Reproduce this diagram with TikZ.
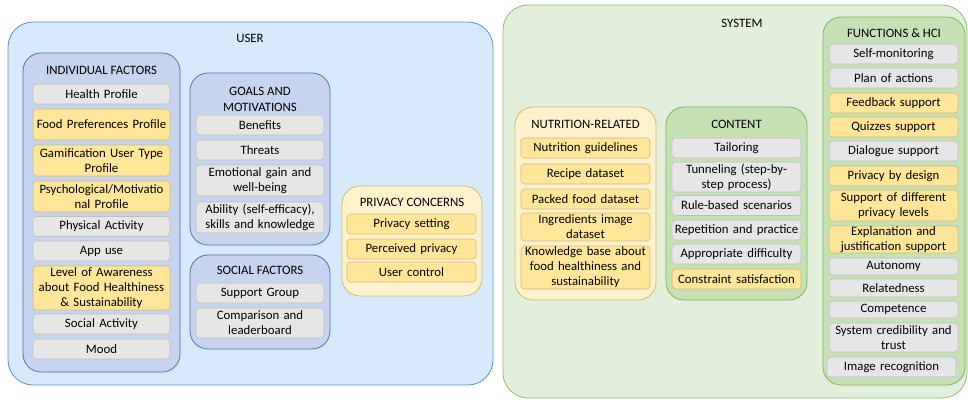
\documentclass[tikz,border=0pt]{standalone}
\usepackage{fontspec}
\setmainfont{Carlito}
\usepackage{tikz}
\usetikzlibrary{calc}

\definecolor{userfill}{HTML}{D6EAFB}
\definecolor{userline}{HTML}{5B8FD0}
\definecolor{grpfill}{HTML}{C6D4EE}
\definecolor{grpline}{HTML}{4F72B0}
\definecolor{sysfill}{HTML}{E2EFDA}
\definecolor{sysline}{HTML}{8DBF70}
\definecolor{greenfill}{HTML}{C6E1B5}
\definecolor{greenline}{HTML}{7DB35C}
\definecolor{creamfill}{HTML}{FFF2CC}
\definecolor{creamline}{HTML}{D1BA6A}
\definecolor{grayfill}{HTML}{E7E6E6}
\definecolor{grayline}{HTML}{BFBFBF}
\definecolor{yelfill}{HTML}{FFE699}
\definecolor{yelline}{HTML}{CDBB7E}

\tikzstyle{outer} = [inner sep=0pt, outer sep=0pt, rounded corners=25pt, line width=0.8pt]
\tikzstyle{group} = [inner sep=0pt, outer sep=0pt, rounded corners=18pt, line width=0.8pt]
\tikzstyle{item} = [draw=grayline, fill=grayfill, rounded corners=3.5pt, line width=0.6pt,
                    text width=126pt, align=center, inner xsep=1.5pt, inner ysep=0pt,
                    minimum height=20pt, font=\fontsize{12.8}{15}\selectfont]
\tikzstyle{yitem} = [item, draw=yelline, fill=yelfill]
\tikzstyle{title} = [align=center, font=\fontsize{12.8}{16}\selectfont]

\begin{document}
\begin{tikzpicture}[x=1pt, y=-1pt]

        % canvas
        \useasboundingbox (0,0) rectangle (968,400);

        % USER
        \node at (250.5,203.5) [outer, draw=userline, fill=userfill, minimum width=485pt, minimum height=363pt] (user) {};
        \node at (250,38) [title] (usert) {USER};

        % Individual factors
        \node at (101.5,212.5) [group, draw=grpline, fill=grpfill, minimum width=157pt, minimum height=319pt] (indiv) {};
        \node at (101.5,70) [title] (indivt) {INDIVIDUAL FACTORS};
        \node at (101.5,94) [item, text width=134pt] (health) {Health Profile};
        \node at (101.5,124.5) [yitem, text width=134pt, minimum height=31pt] (food) {Food Preferences Profile};
        \node at (101.5,160.5) [yitem, text width=134pt, minimum height=31pt] (gamif) {Gamification User Type\\Profile};
        \node at (101.5,196.5) [yitem, text width=134pt, minimum height=31pt] (psych) {Psychological/Motivatio\\nal Profile};
        \node at (101.5,226.5) [item, text width=134pt] (phys) {Physical Activity};
        \node at (101.5,251) [item, text width=134pt] (app) {App use};
        \node at (101.5,288) [yitem, text width=134pt, minimum height=44pt] (aware) {Level of Awareness\\about Food Healthiness\\\& Sustainability};
        \node at (101.5,324) [item, text width=134pt] (socact) {Social Activity};
        \node at (101.5,349) [item, text width=134pt] (mood) {Mood};

        % Goals and motivations
        \node at (260,159) [group, draw=grpline, fill=grpfill, minimum width=140pt, minimum height=172pt] (goals) {};
        \node at (260,99) [title] (goalst) {GOALS AND\\MOTIVATIONS};
        \node at (260,125) [item, text width=125pt] (benef) {Benefits};
        \node at (260,150) [item, text width=125pt] (threat) {Threats};
        \node at (260,180.5) [item, text width=125pt, minimum height=31pt] (emot) {Emotional gain and\\well-being};
        \node at (260,217.5) [item, text width=125pt, minimum height=31pt] (abil) {Ability (self-efficacy),\\skills and knowledge};

        % Social factors
        \node at (260,302) [group, draw=grpline, fill=grpfill, minimum width=140pt, minimum height=94pt] (social) {};
        \node at (260,270) [title] (socialt) {SOCIAL FACTORS};
        \node at (260,293) [item, text width=125pt] (support) {Support Group};
        \node at (260,323) [item, text width=125pt, minimum height=30pt] (compar) {Comparison and\\leaderboard};

        % Privacy concerns
        \node at (412,241) [group, draw=creamline, fill=creamfill, minimum width=140pt, minimum height=110pt] (privacy) {};
        \node at (412,202) [title] (privacyt) {PRIVACY CONCERNS};
        \node at (411.5,224) [yitem] (pset) {Privacy setting};
        \node at (411.5,249) [yitem] (pperc) {Perceived privacy};
        \node at (411.5,272) [yitem] (pctrl) {User control};

        % SYSTEM
        \node at (735,201.5) [outer, draw=sysline, fill=sysfill, minimum width=464pt, minimum height=393pt] (system) {};
        \node at (742,23) [title] (systemt) {SYSTEM};

        % Nutrition-related
        \node at (585.5,203.5) [group, draw=creamline, fill=creamfill, minimum width=141pt, minimum height=193pt] (nutri) {};
        \node at (585.5,124) [title] (nutrit) {NUTRITION-RELATED};
        \node at (585.5,148) [yitem] (guide) {Nutrition guidelines};
        \node at (585.5,174) [yitem] (recipe) {Recipe dataset};
        \node at (585.5,199) [yitem] (packed) {Packed food dataset};
        \node at (585.5,227) [yitem, minimum height=28pt] (ingred) {Ingredients image\\dataset};
        \node at (585.5,267.5) [yitem, minimum height=43pt] (know) {Knowledge base about\\food healthiness and\\sustainability};

        % Content
        \node at (736.5,203.5) [group, draw=greenline, fill=greenfill, minimum width=141pt, minimum height=193pt] (content) {};
        \node at (736.5,124) [title] (contentt) {CONTENT};
        \node at (736.5,148) [item] (tailor) {Tailoring};
        \node at (736.5,177) [item, minimum height=30pt] (tunnel) {Tunneling (step-by-\\step process)};
        \node at (736.5,205.5) [item] (rule) {Rule-based scenarios};
        \node at (736.5,230) [item] (repet) {Repetition and practice};
        \node at (736.5,254) [item] (approp) {Appropriate difficulty};
        \node at (736.5,279) [yitem] (constr) {Constraint satisfaction};

        % Functions & HCI
        \node at (894,201) [group, draw=greenline, fill=greenfill, minimum width=142pt, minimum height=368pt] (func) {};
        \node at (894,33) [title] (funct) {FUNCTIONS \& HCI};
        \node at (893.5,54) [item] (selfmon) {Self-monitoring};
        \node at (893.5,78) [item] (plan) {Plan of actions};
        \node at (893.5,103) [yitem] (feedb) {Feedback support};
        \node at (893.5,127) [yitem] (quiz) {Quizzes support};
        \node at (893.5,151) [item] (dialog) {Dialogue support};
        \node at (893.5,176) [yitem] (pdesign) {Privacy by design};
        \node at (893.5,205.5) [yitem, minimum height=31pt] (plevels) {Support of different\\privacy levels};
        \node at (893.5,239.5) [yitem, minimum height=27pt] (explain) {Explanation and\\justification support};
        \node at (893.5,266.5) [item, minimum height=17pt] (auton) {Autonomy};
        \node at (893.5,288) [item, minimum height=18pt] (relat) {Relatedness};
        \node at (893.5,309.5) [item, minimum height=17pt] (compet) {Competence};
        \node at (893.5,337.5) [item, minimum height=29pt] (cred) {System credibility and\\trust};
        \node at (891.5,367) [item] (imgrec) {Image recognition};

\end{tikzpicture}
\end{document}
